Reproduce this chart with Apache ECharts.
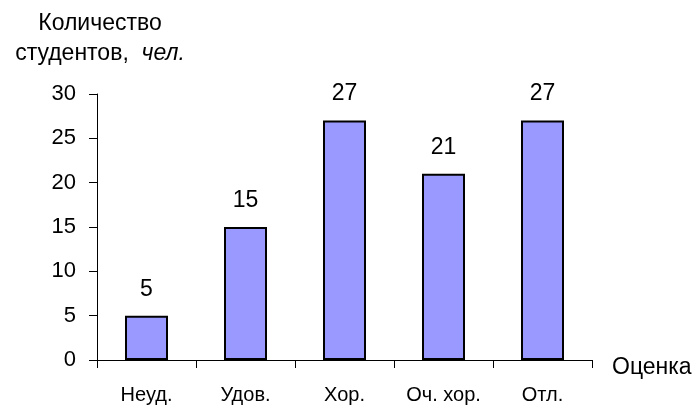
<!DOCTYPE html>
<html>
<head>
<meta charset="utf-8">
<script src="https://cdn.jsdelivr.net/npm/echarts@6/dist/echarts.min.js"></script>
<style>
  html, body { margin: 0; padding: 0; background: #fff; }
  #chart { width: 699px; height: 405px; }
</style>
</head>
<body>
<div id="chart"></div>
<script>
// Grade categories and number of students per grade
const grades = ['Неуд.', 'Удов.', 'Хор.', 'Оч. хор.', 'Отл.'];
const students = [5, 15, 27, 21, 27];
const yTicks = { min: 0, max: 30, interval: 5 };

const FONT = '"Liberation Sans", Arial, sans-serif';
const chart = echarts.init(document.getElementById('chart'), null, { renderer: 'canvas' });

chart.setOption({
  animation: false,
  backgroundColor: '#ffffff',
  textStyle: { fontFamily: FONT, color: '#000' },
  grid: { left: 97, right: 107, top: 94, bottom: 45, containLabel: false },
  graphic: [
    {
      type: 'text', x: 100, y: 24,
      style: { text: 'Количество', font: '23px ' + FONT, fill: '#000', align: 'center', verticalAlign: 'middle' }
    },
    {
      type: 'text', x: 100, y: 54,
      style: {
        text: '{a|студентов,  }{b|чел.}',
        align: 'center',
        verticalAlign: 'middle',
        rich: {
          a: { fontSize: 23, fontFamily: FONT, color: '#000' },
          b: { fontSize: 23, fontFamily: FONT, fontStyle: 'italic', color: '#000' }
        }
      }
    }
  ],
  xAxis: {
    type: 'category',
    data: grades,
    boundaryGap: true,
    name: 'Оценка',
    nameLocation: 'end',
    nameGap: 20,
    nameTextStyle: { fontSize: 23, fontFamily: FONT, color: '#000', verticalAlign: 'top', lineHeight: 16 },
    axisLine: { lineStyle: { color: '#000', width: 1 } },
    axisTick: { show: true, inside: false, length: 8, alignWithLabel: false, lineStyle: { color: '#000' } },
    axisLabel: { fontSize: 20, fontFamily: FONT, color: '#000', margin: 25, interval: 0 },
    splitLine: { show: false }
  },
  yAxis: {
    type: 'value',
    min: yTicks.min,
    max: yTicks.max,
    interval: yTicks.interval,
    axisLine: { show: true, lineStyle: { color: '#000', width: 1 } },
    axisTick: { show: true, inside: false, length: 8, lineStyle: { color: '#000' } },
    axisLabel: { fontSize: 22, fontFamily: FONT, color: '#000', margin: 21 },
    splitLine: { show: false }
  },
  series: [{
    type: 'bar',
    data: students,
    barWidth: 43,
    itemStyle: { color: '#9999ff', borderColor: '#000', borderWidth: 2 },
    label: {
      show: true, position: 'top', distance: 15,
      fontSize: 23, fontFamily: FONT, color: '#000'
    }
  }]
});
</script>
</body>
</html>
